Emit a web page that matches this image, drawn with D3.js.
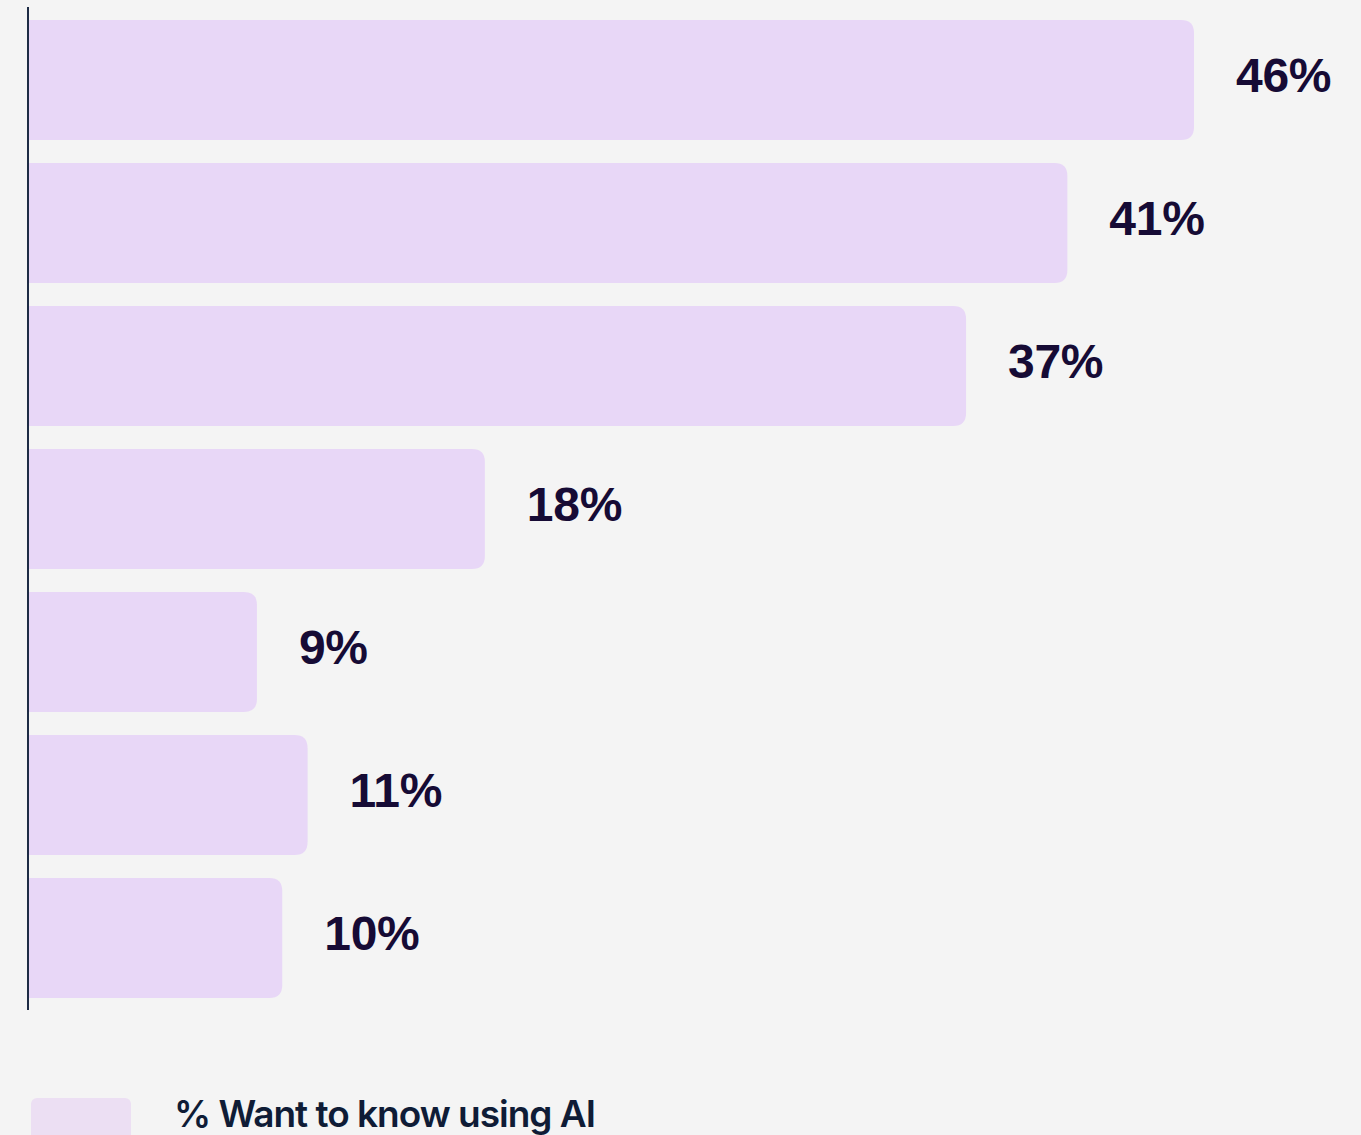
<!DOCTYPE html>
<html>
<head>
<meta charset="utf-8">
<script src="https://cdn.jsdelivr.net/npm/d3@7"></script>
<style>
  html, body { margin: 0; padding: 0; background: #f4f4f4; }
  svg { display: block; }
</style>
</head>
<body>
<div id="chart"></div>
<script>
// data
const categories = ["Row 1", "Row 2", "Row 3", "Row 4", "Row 5", "Row 6", "Row 7"];
const values = [46, 41, 37, 18, 9, 11, 10];
const seriesName = "% Want to know using AI";

const width = 1361, height = 1135;
const x0 = 29;

const svg = d3.select("#chart")
    .append("svg")
    .attr("width", width)
    .attr("height", height);

// scales
const x = d3.scaleLinear()
    .domain([0, 46])
    .range([x0, 1194]);

const y = d3.scaleBand()
    .domain(categories)
    .range([20, 998])
    .paddingInner(0.16)
    .paddingOuter(0);

const rows = categories.map((c, i) => ({ cat: c, v: values[i] }));

// bar with rounded right corners
function barPath(d) {
    const r = 13;
    const left = x(0), right = x(d.v), top = y(d.cat), bot = top + y.bandwidth();
    return "M" + left + "," + top +
        "H" + (right - r) +
        "Q" + right + "," + top + " " + right + "," + (top + r) +
        "V" + (bot - r) +
        "Q" + right + "," + bot + " " + (right - r) + "," + bot +
        "H" + left + "Z";
}

svg.append("g")
    .selectAll("path")
    .data(rows)
    .enter()
    .append("path")
    .attr("d", barPath)
    .attr("fill", "#e8d7f7");

// value labels
svg.append("g")
    .selectAll("text")
    .data(rows)
    .enter()
    .append("text")
    .attr("x", d => x(d.v) + 42)
    .attr("y", d => y(d.cat) + y.bandwidth() / 2 + 12)
    .attr("font-family", "'Liberation Sans', Arial, sans-serif")
    .attr("font-weight", 700)
    .attr("font-size", 48)
    .attr("letter-spacing", -0.3)
    .attr("fill", "#160b35")
    .text(d => d.v + "%");

// axis line
svg.append("line")
    .attr("x1", 28).attr("x2", 28)
    .attr("y1", 7).attr("y2", 1010)
    .attr("stroke", "#1d2b45")
    .attr("stroke-width", 2);

// legend
const legend = svg.append("g").attr("transform", "translate(31,1098)");
legend.append("rect")
    .attr("width", 100)
    .attr("height", 50)
    .attr("rx", 6)
    .attr("fill", "#ecdff3");
legend.append("text")
    .attr("x", 143)
    .attr("y", 29)
    .attr("font-family", "Inter, 'Noto Sans', sans-serif")
    .attr("font-weight", 600)
    .attr("font-size", 37)
    .attr("letter-spacing", -1)
    .attr("fill", "#0f1c36")
    .text(seriesName);
</script>
</body>
</html>
